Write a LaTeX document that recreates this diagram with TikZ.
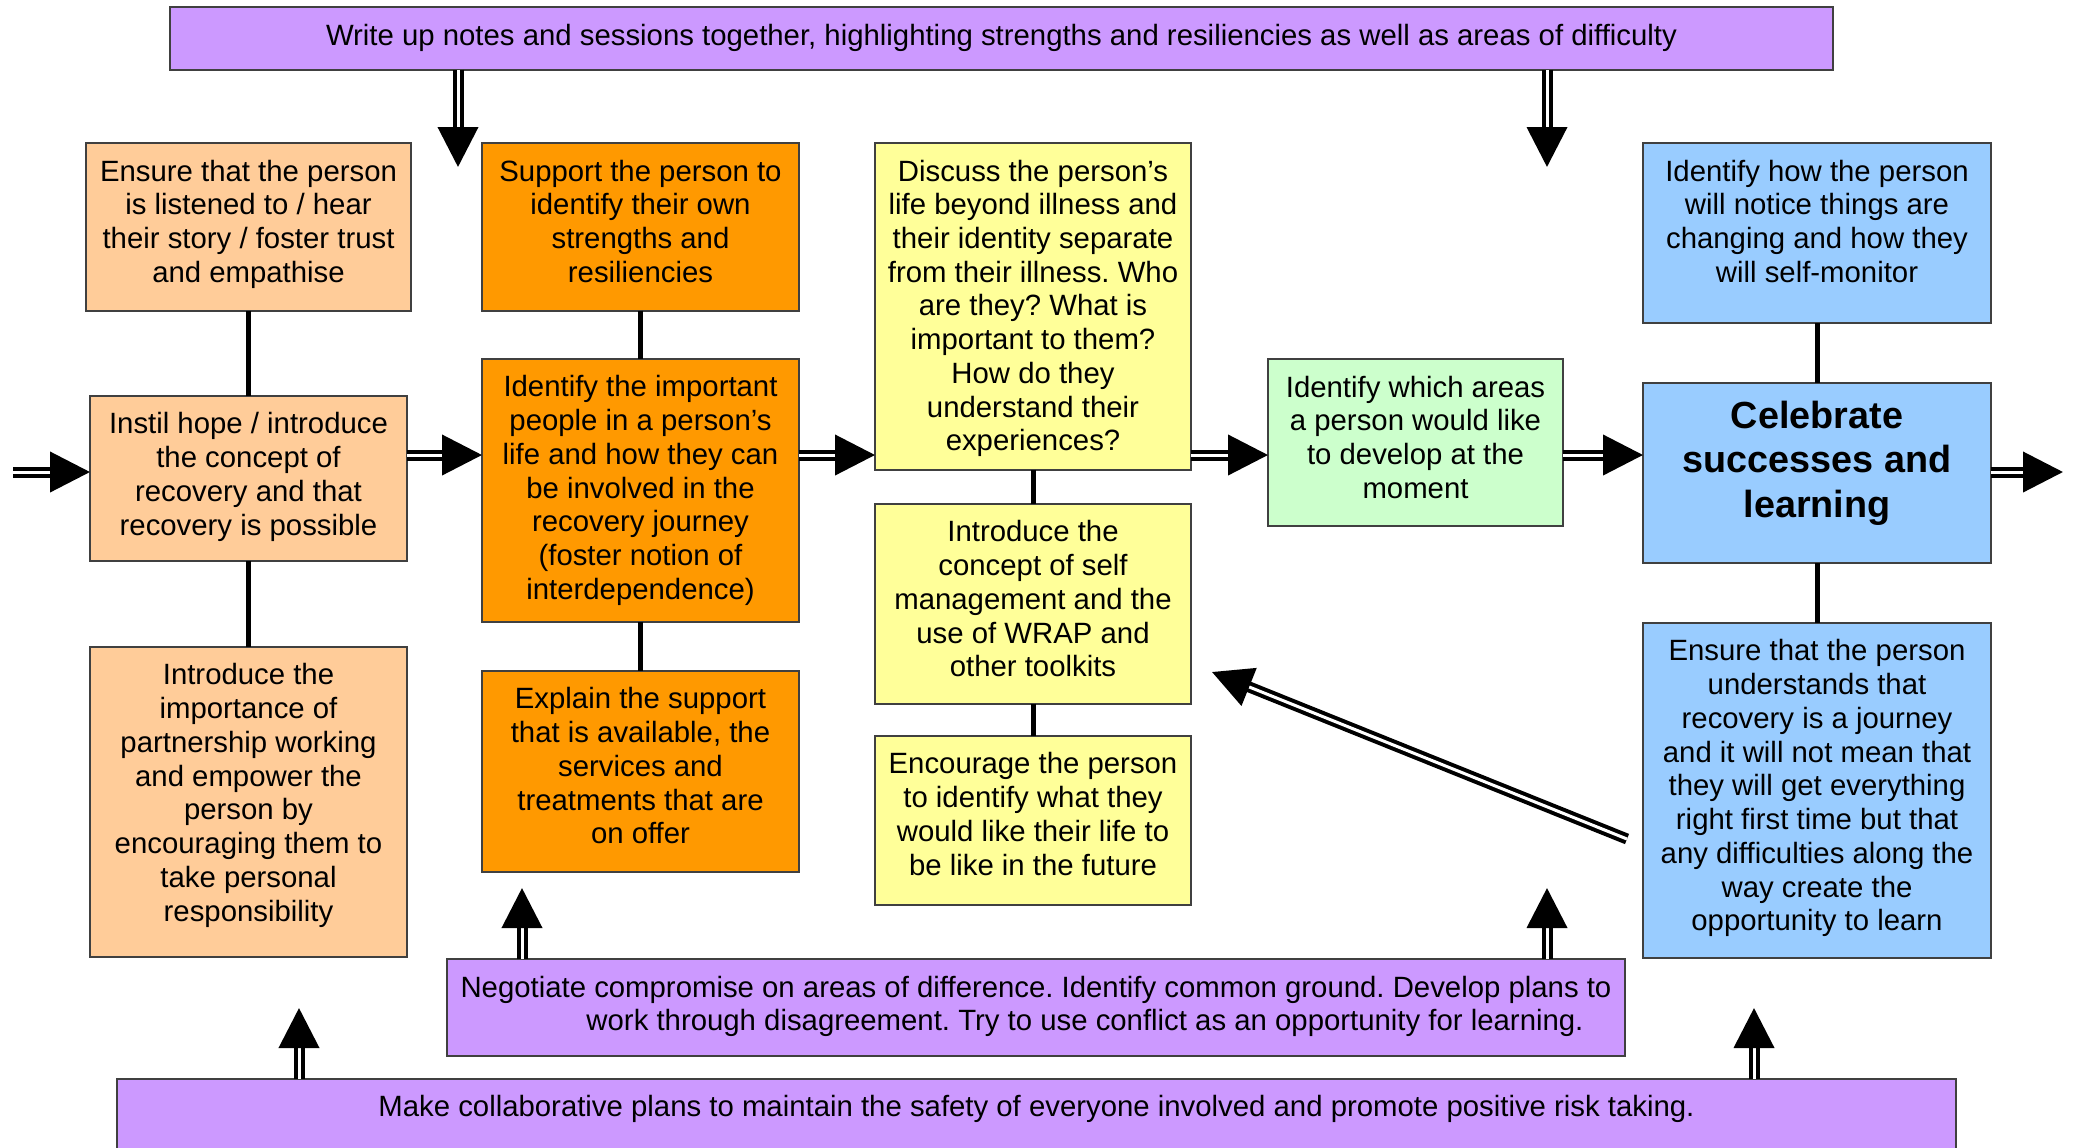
\documentclass[tikz,border=0pt]{standalone}
\usepackage{fontspec}
\setmainfont{Liberation Sans}
\usepackage{xcolor}
\usetikzlibrary{arrows.meta,positioning}

\definecolor{rcpurple}{HTML}{CC99FF}
\definecolor{rcpeach}{HTML}{FFCC99}
\definecolor{rcorange}{HTML}{FF9900}
\definecolor{rcyellow}{HTML}{FFFF99}
\definecolor{rcgreen}{HTML}{CCFFCC}
\definecolor{rcblue}{HTML}{99CCFF}
\definecolor{rcedge}{HTML}{404040}

\begin{document}
\frenchspacing
\begin{tikzpicture}[
  x=0.02cm, y=-0.02cm,
  rcbox/.style={draw=rcedge, line width=0.04cm, align=flush center, inner sep=0pt,
    outer sep=0pt, text height=0.76cm, font=\fontsize{16.7}{19.2}\selectfont},
  rcbar/.style={rcbox, fill=rcpurple},
  rclink/.style={line width=0.1cm},
  rcarr/.style={double, double distance=0.06cm, line width=0.08cm,
    -{Triangle[length=0.8cm, width=0.8cm]}}
]
\useasboundingbox (0,0) rectangle (2078,1147);

% purple bars
\node[rcbar, text width=33.26cm, text depth=0.50cm] (writeup) at (1001.5,38.5)
  {Write up notes and sessions together, highlighting strengths and resiliencies as well as areas of difficulty};
\node[rcbar, text width=23.56cm, text depth=1.18cm] (negotiate) at (1036,1007.5)
  {Negotiate compromise on areas of difference. Identify common ground. Develop plans to\\
   \hspace*{1.96cm}work through disagreement. Try to use conflict as an opportunity for learning.};
\node[rcbar, anchor=north, text width=36.78cm, text height=0.74cm, text depth=1.2cm] (safety) at (1036.5,1079)
  {Make collaborative plans to maintain the safety of everyone involved and promote positive risk taking.};

% column 1
\node[rcbox, fill=rcpeach, text width=6.5cm, text depth=2.60cm] (ensure) at (248.5,227)
  {Ensure that the person\\is listened to / hear\\their story / foster trust\\and empathise};
\node[rcbox, fill=rcpeach, text width=6.34cm, text depth=2.54cm, below=1.7cm of ensure] (instil)
  {Instil hope / introduce\\the concept of\\recovery and that\\recovery is possible};
\node[rcbox, fill=rcpeach, text width=6.34cm, text depth=5.44cm, below=1.72cm of instil] (partner)
  {Introduce the\\importance of\\partnership working\\and empower the\\person by\\encouraging them to\\take personal\\responsibility};

% column 2
\node[rcbox, fill=rcorange, text width=6.34cm, text depth=2.60cm] (support) at (640.5,227)
  {Support the person to\\identify their own\\strengths and\\resiliencies};
\node[rcbox, fill=rcorange, text width=6.34cm, text depth=4.50cm, below=0.96cm of support] (important)
  {Identify the important\\people in a person’s\\life and how they can\\be involved in the\\recovery journey\\(foster notion of\\interdependence)};
\node[rcbox, fill=rcorange, text width=6.34cm, text depth=3.26cm, below=0.98cm of important] (explain)
  {Explain the support\\that is available, the\\services and\\treatments that are\\on offer};

% column 3
\node[rcbox, fill=rcyellow, text width=6.32cm, text depth=5.78cm] (discuss) at (1033,306.5)
  {Discuss the person’s\\life beyond illness and\\their identity separate\\from their illness. Who\\are they? What is\\important to them?\\How do they\\understand their\\experiences?};
\node[rcbox, fill=rcyellow, text width=6.32cm, text depth=3.24cm, below=0.68cm of discuss] (selfmgmt)
  {Introduce the\\concept of self\\management and the\\use of WRAP and\\other toolkits};
\node[rcbox, fill=rcyellow, text width=6.32cm, text depth=2.62cm, below=0.64cm of selfmgmt] (future)
  {Encourage the person\\to identify what they\\would like their life to\\be like in the future};

% column 4
\node[rcbox, fill=rcgreen, text width=5.9cm, text depth=2.58cm] (areas) at (1415.5,442.5)
  {Identify which areas\\a person would like\\to develop at the\\moment};

% column 5
\node[rcbox, fill=rcblue, text width=6.96cm, text depth=2.84cm] (monitor) at (1817,233)
  {Identify how the person\\will notice things are\\changing and how they\\will self-monitor};
\node[rcbox, fill=rcblue, text width=6.96cm, text height=0.91cm, text depth=2.69cm, below=1.2cm of monitor,
  font=\fontsize{21.5}{25.3}\selectfont\bfseries] (celebrate)
  {Celebrate\\successes and\\learning};
\node[rcbox, fill=rcblue, text width=6.96cm, text depth=5.94cm, below=1.2cm of celebrate] (journey)
  {Ensure that the person\\understands that\\recovery is a journey\\and it will not mean that\\they will get everything\\right first time but that\\any difficulties along the\\way create the\\opportunity to learn};

% links
\draw[rclink] (ensure) -- (instil);
\draw[rclink] (instil) -- (partner);
\draw[rclink] (support) -- (important);
\draw[rclink] (important) -- (explain);
\draw[rclink] (discuss) -- (selfmgmt);
\draw[rclink] (selfmgmt) -- (future);
\draw[rclink] (monitor) -- (celebrate);
\draw[rclink] (celebrate) -- (journey);

% main flow
\coordinate (start) at (13,472);
\coordinate (row) at (0,455);
\coordinate (finish) at (2063,472);
\draw[rcarr] (start) -- (start -| instil.west);
\draw[rcarr] (instil.east |- row) -- (important.west |- row);
\draw[rcarr] (important.east |- row) -- (discuss.west |- row);
\draw[rcarr] (discuss.east |- row) -- (areas.west |- row);
\draw[rcarr] (areas.east |- row) -- (celebrate.west |- row);
\draw[rcarr] (celebrate.east |- finish) -- (finish);

% from and to the bars
\coordinate (down1) at (458,167);
\coordinate (down2) at (1547,167);
\coordinate (up1) at (522,888);
\coordinate (up2) at (1547,888);
\coordinate (up3) at (299,1008);
\coordinate (up4) at (1754,1008);
\draw[rcarr] (writeup.south -| down1) -- (down1);
\draw[rcarr] (writeup.south -| down2) -- (down2);
\draw[rcarr] (negotiate.north -| up1) -- (up1);
\draw[rcarr] (negotiate.north -| up2) -- (up2);
\draw[rcarr] (safety.north -| up3) -- (up3);
\draw[rcarr] (safety.north -| up4) -- (up4);

% back to self management
\coordinate (backtail) at (1627,839);
\coordinate (backtip) at (1212,672);
\draw[rcarr] (backtail) -- (backtip);
\end{tikzpicture}
\end{document}
